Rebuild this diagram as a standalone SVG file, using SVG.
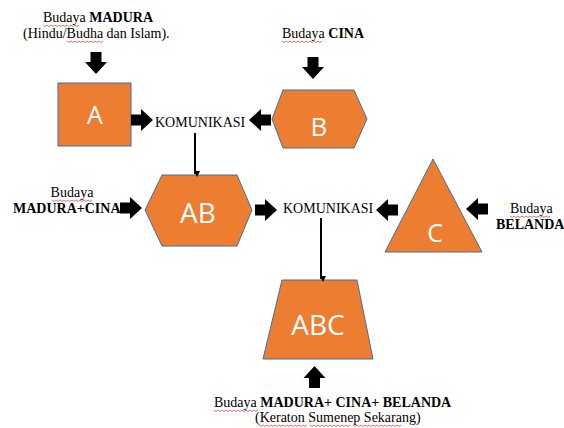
<svg xmlns="http://www.w3.org/2000/svg" width="564" height="428" viewBox="0 0 564 428">
<style>
.shape{fill:#ED7D31;stroke:#41719C;stroke-width:1}
.lbl{font-family:"Liberation Serif","Times New Roman",serif;font-size:14px;fill:#000}
.b{font-weight:bold}
.big{font-family:"Open Sans","Liberation Sans",sans-serif;fill:#fff;text-anchor:middle}
.wave{fill:none;stroke:#E04848;stroke-width:0.8}
.ln{stroke:#000;stroke-width:2}
</style>
<defs>
<path id="blk" d="M0,-5.5 H10 V-11 L22,0 L10,11 V5.5 H0 Z" fill="#000"/>
<marker id="ah" markerWidth="6" markerHeight="6" refX="3" refY="5" orient="auto" markerUnits="userSpaceOnUse" viewBox="0 0 6 6">
<path d="M0,0 L6,0 L3,6 Z" fill="#000" transform="rotate(-90 3 3)"/>
</marker>
</defs>
<rect width="564" height="428" fill="#fff"/>

<g id="labels">
<text class="lbl" x="43" y="22">Budaya <tspan class="b">MADURA</tspan></text>
<text class="lbl" x="23" y="38">(Hindu/Budha dan Islam).</text>
<text class="lbl" x="282" y="38">Budaya <tspan class="b">CINA</tspan></text>
<text class="lbl" x="72" y="197" text-anchor="middle">Budaya</text>
<text class="lbl b" x="13" y="213">MADURA+CINA</text>
<text class="lbl" x="510" y="213">Budaya</text>
<text class="lbl b" x="496" y="229" font-size="13.5">BELANDA</text>
<text class="lbl" x="214" y="407">Budaya <tspan class="b">MADURA+ CINA+ BELANDA</tspan></text>
<text class="lbl" x="255" y="422">(Keraton Sumenep Sekarang)</text>
</g>

<g id="spellmarks">
<path class="wave" d="M43,25 l2,1.5 l2,-1.5 l2,1.5 l2,-1.5 l2,1.5 l2,-1.5 l2,1.5 l2,-1.5 l2,1.5 l2,-1.5 l2,1.5 l2,-1.5 l2,1.5 l2,-1.5 l2,1.5 l2,-1.5 l2,1.5 l2,-1.5"/>
<path class="wave" d="M67,41 l2,1.5 l2,-1.5 l2,1.5 l2,-1.5 l2,1.5 l2,-1.5 l2,1.5 l2,-1.5 l2,1.5 l2,-1.5 l2,1.5 l2,-1.5 l2,1.5 l2,-1.5 l2,1.5 l2,-1.5 l2,1.5 l2,-1.5"/>
<path class="wave" d="M282,41 l2,1.5 l2,-1.5 l2,1.5 l2,-1.5 l2,1.5 l2,-1.5 l2,1.5 l2,-1.5 l2,1.5 l2,-1.5 l2,1.5 l2,-1.5 l2,1.5 l2,-1.5 l2,1.5 l2,-1.5 l2,1.5 l2,-1.5 l2,1.5 l2,-1.5"/>
<path class="wave" d="M52,200 l2,1.5 l2,-1.5 l2,1.5 l2,-1.5 l2,1.5 l2,-1.5 l2,1.5 l2,-1.5 l2,1.5 l2,-1.5 l2,1.5 l2,-1.5 l2,1.5 l2,-1.5 l2,1.5 l2,-1.5 l2,1.5 l2,-1.5 l2,1.5 l2,-1.5"/>
<path class="wave" d="M510,216 l2,1.5 l2,-1.5 l2,1.5 l2,-1.5 l2,1.5 l2,-1.5 l2,1.5 l2,-1.5 l2,1.5 l2,-1.5 l2,1.5 l2,-1.5 l2,1.5 l2,-1.5 l2,1.5 l2,-1.5 l2,1.5 l2,-1.5 l2,1.5 l2,-1.5"/>
<path class="wave" d="M214,410 l2,1.5 l2,-1.5 l2,1.5 l2,-1.5 l2,1.5 l2,-1.5 l2,1.5 l2,-1.5 l2,1.5 l2,-1.5 l2,1.5 l2,-1.5 l2,1.5 l2,-1.5 l2,1.5 l2,-1.5 l2,1.5 l2,-1.5 l2,1.5 l2,-1.5 l2,1.5 l2,-1.5"/>
<path class="wave" d="M259,425 l2,1.5 l2,-1.5 l2,1.5 l2,-1.5 l2,1.5 l2,-1.5 l2,1.5 l2,-1.5 l2,1.5 l2,-1.5 l2,1.5 l2,-1.5 l2,1.5 l2,-1.5 l2,1.5 l2,-1.5 l2,1.5 l2,-1.5 l2,1.5 l2,-1.5 l2,1.5 l2,-1.5 l2,1.5 l2,-1.5"/>
<path class="wave" d="M310,425 l2,1.5 l2,-1.5 l2,1.5 l2,-1.5 l2,1.5 l2,-1.5 l2,1.5 l2,-1.5 l2,1.5 l2,-1.5 l2,1.5 l2,-1.5 l2,1.5 l2,-1.5 l2,1.5 l2,-1.5 l2,1.5 l2,-1.5 l2,1.5 l2,-1.5"/>
<path class="wave" d="M353,425 l2,1.5 l2,-1.5 l2,1.5 l2,-1.5 l2,1.5 l2,-1.5 l2,1.5 l2,-1.5 l2,1.5 l2,-1.5 l2,1.5 l2,-1.5 l2,1.5 l2,-1.5 l2,1.5 l2,-1.5 l2,1.5 l2,-1.5 l2,1.5 l2,-1.5 l2,1.5 l2,-1.5 l2,1.5 l2,-1.5"/>
</g>

<g id="nodeA">
<rect class="shape" x="58" y="83" width="73" height="63"/>
<text class="big" x="95" y="124" font-size="25">A</text>
</g>
<g id="nodeB">
<polygon class="shape" points="272,119 283,90 354,90 367,119 354,148 283,148"/>
<text class="big" x="319" y="136" font-size="26">B</text>
</g>
<g id="komunikasi1">
<text class="lbl" x="155" y="127" font-size="13.5">KOMUNIKASI</text>
</g>
<g id="nodeAB">
<polygon class="shape" points="145,210 162,175 237,175 252,210 237,246 162,246"/>
<text class="big" x="198" y="223" font-size="28">AB</text>
</g>
<g id="komunikasi2">
<text class="lbl" x="283" y="213" font-size="13.5">KOMUNIKASI</text>
</g>
<g id="nodeC">
<polygon class="shape" points="433,159 482,252 385,252"/>
<text class="big" x="435" y="242" font-size="25">C</text>
</g>
<g id="nodeABC">
<polygon class="shape" points="282,280 357,280 373,359 263,359"/>
<text class="big" x="318" y="335" font-size="28">ABC</text>
</g>

<g id="connectors">
<use href="#blk" transform="translate(96,52) rotate(90)"/>
<use href="#blk" transform="translate(313,57) rotate(90)"/>
<use href="#blk" transform="translate(131,120)"/>
<use href="#blk" transform="translate(271,120) rotate(180)"/>
<use href="#blk" transform="translate(120,208)"/>
<use href="#blk" transform="translate(255,210)"/>
<use href="#blk" transform="translate(398,210) rotate(180)"/>
<use href="#blk" transform="translate(488,209) rotate(180)"/>
<use href="#blk" transform="translate(314.5,388) rotate(-90)"/>
<line class="ln" x1="195" y1="133" x2="195" y2="174" marker-end="url(#ah)"/>
<line class="ln" x1="321" y1="218" x2="321" y2="279" marker-end="url(#ah)"/>
</g>
</svg>
